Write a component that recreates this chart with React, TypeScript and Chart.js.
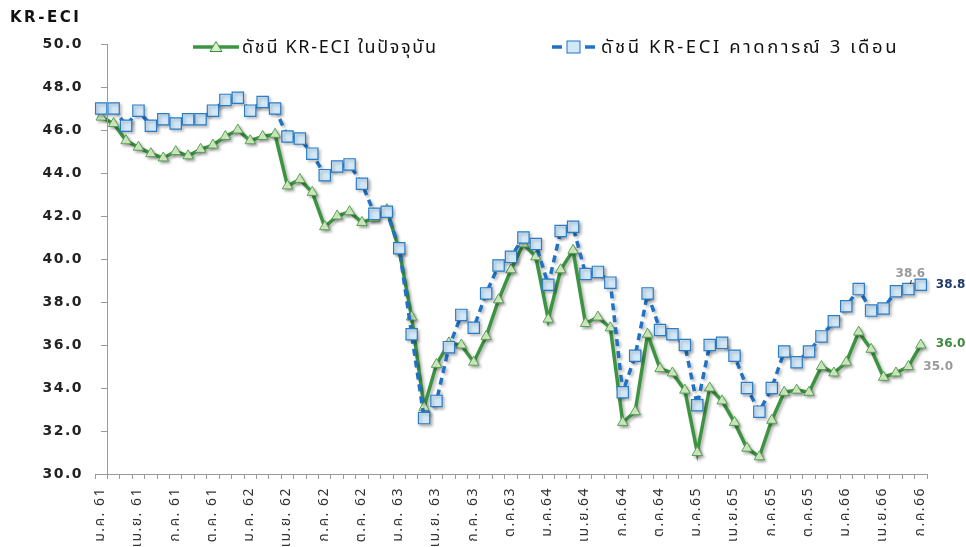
import React, { useEffect, useRef } from "react";
import { Chart, registerables } from "chart.js";

Chart.register(...registerables);

const TITLE = "KR-ECI";
const CURRENT_NAME = "ดัชนี KR-ECI ในปัจจุบัน";
const FORECAST_NAME = "ดัชนี KR-ECI คาดการณ์ 3 เดือน";

const monthNames = ["ม.ค.", "ก.พ.", "มี.ค.", "เม.ย.", "พ.ค.", "มิ.ย.", "ก.ค.", "ส.ค.", "ก.ย.", "ต.ค.", "พ.ย.", "ธ.ค."];
const years = ["61", "62", "63", "64", "65", "66"];
const categories = years.flatMap((y) => monthNames.map((m) => m + " " + y)).slice(0, 67);

const tickLabels = [
  "ม.ค. 61", "เม.ย. 61", "ก.ค. 61", "ต.ค. 61",
  "ม.ค. 62", "เม.ย. 62", "ก.ค. 62", "ต.ค. 62",
  "ม.ค. 63", "เม.ย. 63", "ก.ค. 63", "ต.ค.63",
  "ม.ค.64", "เม.ย.64", "ก.ค.64", "ต.ค.64",
  "ม.ค.65", "เม.ย.65", "ก.ค.65", "ต.ค.65",
  "ม.ค.66", "เม.ย.66", "ก.ค.66",
];

const currentIndex = [
  46.6, 46.3, 45.5, 45.2, 44.9, 44.7, 45.0, 44.8, 45.1, 45.3,
  45.7, 46.0, 45.5, 45.7, 45.8, 43.4, 43.7, 43.1, 41.5, 42.0,
  42.2, 41.7, 41.9, 42.3, 40.4, 37.3, 33.1, 35.1, 36.1, 36.0,
  35.2, 36.4, 38.1, 39.5, 40.7, 40.1, 37.2, 39.5, 40.4, 37.0,
  37.3, 36.8, 32.4, 32.9, 36.5, 34.9, 34.7, 33.9, 31.0, 34.0,
  33.4, 32.4, 31.2, 30.8, 32.5, 33.8, 33.9, 33.8, 35.0, 34.7,
  35.2, 36.6, 35.8, 34.5, 34.7, 35.0, 36.0,
];

const forecastIndex = [
  47.0, 47.0, 46.2, 46.9, 46.2, 46.5, 46.3, 46.5, 46.5, 46.9,
  47.4, 47.5, 46.9, 47.3, 47.0, 45.7, 45.6, 44.9, 43.9, 44.3,
  44.4, 43.5, 42.1, 42.2, 40.5, 36.5, 32.6, 33.4, 35.9, 37.4,
  36.8, 38.4, 39.7, 40.1, 41.0, 40.7, 38.8, 41.3, 41.5, 39.3,
  39.4, 38.9, 33.8, 35.5, 38.4, 36.7, 36.5, 36.0, 33.2, 36.0,
  36.1, 35.5, 34.0, 32.9, 34.0, 35.7, 35.2, 35.7, 36.4, 37.1,
  37.8, 38.6, 37.6, 37.7, 38.5, 38.6, 38.8,
];

const Y_MIN = 30;
const Y_MAX = 50;
const Y_STEP = 2;

const GREEN = "#3c9440";
const GREEN_FILL = "#d8f1c6";
const BLUE = "#1f72c4";
const BLUE_FILL = "#d2e8f8";
const AXIS = "#9a9a9a";
const THAI_FONT = '"Noto Sans Thai", "Noto Sans Thai UI", Tahoma, "Noto Sans", "DejaVu Sans", sans-serif';
const NUM_FONT = '"DejaVu Sans", Verdana, sans-serif';

const spacingPlugin = {
  id: "spacingPlugin",
  beforeDraw(chart: any) {
    (chart.ctx as any).letterSpacing = "1.5px";
  },
  beforeDatasetsDraw(chart: any) {
    (chart.ctx as any).letterSpacing = "0px";
  },
};

const shadowPlugin = {
  id: "shadowPlugin",
  beforeDatasetsDraw(chart: any) {
    const ctx = chart.ctx;
    ctx.save();
    ctx.shadowColor = "rgba(0,0,0,0.28)";
    ctx.shadowBlur = 3;
    ctx.shadowOffsetX = 2;
    ctx.shadowOffsetY = 2;
  },
  afterDatasetsDraw(chart: any) {
    chart.ctx.restore();
  },
};

const axisPlugin = {
  id: "axisPlugin",
  afterDraw(chart: any) {
    const ctx = chart.ctx;
    const xs = chart.scales.x;
    const ys = chart.scales.y;
    const area = chart.chartArea;
    const x1 = Math.round((xs.getPixelForValue(0) + xs.getPixelForValue(1)) / 2);
    ctx.save();
    ctx.strokeStyle = AXIS;
    ctx.lineWidth = 1;
    ctx.beginPath();
    ctx.moveTo(x1 + 0.5, area.top);
    ctx.lineTo(x1 + 0.5, area.bottom);
    for (let v = Y_MIN; v <= Y_MAX; v += Y_STEP) {
      const y = Math.round(ys.getPixelForValue(v)) + 0.5;
      ctx.moveTo(x1 - 6, y);
      ctx.lineTo(x1 + 0.5, y);
    }
    ctx.stroke();
    ctx.restore();
  },
};

const endLabelPlugin = {
  id: "endLabelPlugin",
  afterDatasetsDraw(chart: any) {
    const ctx = chart.ctx;
    const cur = chart.getDatasetMeta(0).data;
    const fc = chart.getDatasetMeta(1).data;
    const nC = currentIndex.length - 1;
    const nF = forecastIndex.length - 1;
    ctx.save();
    ctx.letterSpacing = "0px";
    ctx.textBaseline = "middle";
    let p = fc[nF - 1];
    ctx.font = "bold 12px " + NUM_FONT;
    ctx.fillStyle = "#9a9a9a";
    ctx.textAlign = "center";
    ctx.fillText(forecastIndex[nF - 1].toFixed(1), p.x + 2, p.y - 15);
    ctx.strokeStyle = "#222";
    ctx.lineWidth = 1;
    ctx.beginPath();
    ctx.moveTo(p.x + 2, p.y - 5);
    ctx.lineTo(p.x + 3, p.y - 9);
    ctx.stroke();
    p = fc[nF];
    ctx.textAlign = "left";
    ctx.fillStyle = "#1f3a68";
    ctx.fillText(forecastIndex[nF].toFixed(1), p.x + 15, p.y);
    p = cur[nC];
    ctx.fillStyle = "#3c8a3c";
    ctx.fillText(currentIndex[nC].toFixed(1), p.x + 15, p.y - 1);
    p = cur[nC - 1];
    ctx.fillStyle = "#9a9a9a";
    ctx.fillText(currentIndex[nC - 1].toFixed(1), p.x + 15, p.y);
    ctx.restore();
  },
};

function TriangleIcon() {
  return (
    <svg width="46" height="14" style={{ display: "block" }}>
      <line x1="0" y1="7" x2="46" y2="7" stroke={GREEN} strokeWidth="3.5" />
      <polygon points="23,1.5 29,11.5 17,11.5" fill={GREEN_FILL} stroke={GREEN} strokeWidth="1" />
    </svg>
  );
}

function SquareIcon() {
  return (
    <svg width="43" height="16" style={{ display: "block" }}>
      <line x1="0" y1="8" x2="10" y2="8" stroke={BLUE} strokeWidth="3.5" />
      <line x1="33" y1="8" x2="43" y2="8" stroke={BLUE} strokeWidth="3.5" />
      <rect x="15" y="2" width="13" height="12" fill={BLUE_FILL} stroke={BLUE} strokeWidth="1" />
    </svg>
  );
}

export default function App() {
  const canvasRef = useRef<HTMLCanvasElement | null>(null);

  useEffect(() => {
    const canvas = canvasRef.current;
    if (!canvas) return;
    const chart = new Chart(canvas, {
      type: "line",
      data: {
        labels: categories,
        datasets: [
          {
            label: CURRENT_NAME,
            data: currentIndex,
            borderColor: GREEN,
            borderWidth: 3.5,
            pointStyle: "triangle",
            pointRadius: 6,
            pointBackgroundColor: GREEN_FILL,
            pointBorderColor: "#55a055",
            pointBorderWidth: 1,
            tension: 0,
            order: 2,
          },
          {
            label: FORECAST_NAME,
            data: forecastIndex,
            borderColor: BLUE,
            borderWidth: 3.5,
            borderDash: [7, 5],
            pointStyle: "rect",
            pointRadius: 8,
            pointBackgroundColor: BLUE_FILL,
            pointBorderColor: "#2a7cc7",
            pointBorderWidth: 1.2,
            tension: 0,
            order: 1,
          },
        ],
      },
      options: {
        animation: false,
        responsive: false,
        devicePixelRatio: 1,
        layout: { padding: { left: 0, right: 39, top: 44, bottom: 0 } },
        plugins: {
          legend: { display: false },
          tooltip: { enabled: false },
        },
        scales: {
          x: {
            type: "category",
            offset: true,
            afterFit: (s: any) => {
              s.height = 146;
            },
            grid: {
              display: true,
              offset: true,
              drawOnChartArea: false,
              drawTicks: true,
              tickLength: 5,
              color: AXIS,
            },
            border: { display: true, color: AXIS },
            ticks: {
              autoSkip: false,
              maxRotation: 90,
              minRotation: 90,
              padding: 8,
              color: "#333",
              font: { family: THAI_FONT, size: 14 },
              callback: (_v: any, i: number) => (i % 3 === 0 ? tickLabels[i / 3] : ""),
            },
          },
          y: {
            min: Y_MIN,
            max: Y_MAX,
            afterFit: (s: any) => {
              s.width = 95;
            },
            grid: { display: false, drawTicks: false },
            border: { display: false },
            ticks: {
              stepSize: Y_STEP,
              padding: 12,
              color: "#222",
              font: { family: NUM_FONT, size: 14, weight: "bold" },
              callback: (v: any) => Number(v).toFixed(1),
            },
          },
        },
      },
      plugins: [spacingPlugin, shadowPlugin, axisPlugin, endLabelPlugin],
    } as any);
    return () => chart.destroy();
  }, []);

  return (
    <div
      style={{
        position: "fixed",
        left: 0,
        top: 0,
        width: 966,
        height: 547,
        overflow: "hidden",
        background: "#fff",
      }}
    >
      <canvas ref={canvasRef} width={966} height={620} style={{ position: "absolute", left: 0, top: 0, width: 966, height: 620 }} />
      <div
        style={{
          position: "absolute",
          left: 10,
          top: 8,
          fontFamily: NUM_FONT,
          fontWeight: "bold",
          fontSize: 15,
          letterSpacing: "2.5px",
          color: "#111",
        }}
      >
        {TITLE}
      </div>
      <div style={{ position: "absolute", left: 193, top: 34, height: 26, display: "flex", alignItems: "center" }}>
        <TriangleIcon />
        <span style={{ marginLeft: 3, fontFamily: THAI_FONT, fontSize: 18, letterSpacing: "1.7px", color: "#111", whiteSpace: "nowrap" }}>
          {CURRENT_NAME}
        </span>
      </div>
      <div style={{ position: "absolute", left: 552, top: 34, height: 26, display: "flex", alignItems: "center" }}>
        <SquareIcon />
        <span style={{ marginLeft: 6, fontFamily: THAI_FONT, fontSize: 18.5, letterSpacing: "2.6px", color: "#111", whiteSpace: "nowrap" }}>
          {FORECAST_NAME}
        </span>
      </div>
    </div>
  );
}
